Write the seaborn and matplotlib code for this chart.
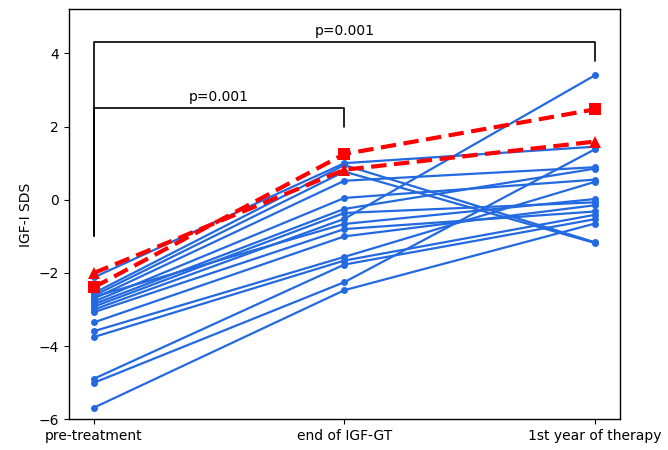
import matplotlib
matplotlib.use("Agg")
import matplotlib.pyplot as plt
import seaborn as sns
import pandas as pd
import numpy as np

timepoints = ["pre-treatment", "end of IGF-GT", "1st year of therapy"]

pre_values = [-2.12, -2.55, -2.62, -2.70, -2.78, -2.85, -2.92, -3.00, -2.65,
              -3.07, -3.35, -3.59, -3.75, -4.89, -5.00, -5.68]
end_values = [1.00, 0.95, 0.77, 0.52, 0.05, -0.25, -0.36, -0.52, -0.66,
              -0.80, -1.00, -1.56, -1.66, -1.77, -2.25, -2.47]
year1_values = [1.45, -1.16, -1.18, 0.89, 0.55, 0.85, -0.07, 3.40, 0.02,
                -0.32, -0.15, 0.49, -0.41, -0.53, 1.38, -0.65]

square_series = [-2.39, 1.25, 2.47]
triangle_series = [-2.00, 0.82, 1.59]

p_labels = ["p=0.001", "p=0.001"]

rows = []
for i, (a, b, c) in enumerate(zip(pre_values, end_values, year1_values)):
    for t, v in zip(range(3), (a, b, c)):
        rows.append({"subject": i, "time": t, "sds": v})
df = pd.DataFrame(rows)

red_df = pd.DataFrame({
    "time": list(range(3)) * 2,
    "sds": square_series + triangle_series,
    "kind": ["square"] * 3 + ["triangle"] * 3,
})

sns.set_style("ticks")
plt.rcParams["font.family"] = ["DejaVu Sans"]
plt.rcParams["font.size"] = 10
plt.rcParams["text.color"] = "black"
plt.rcParams["axes.labelcolor"] = "black"
plt.rcParams["xtick.color"] = "black"
plt.rcParams["ytick.color"] = "black"

fig = plt.figure(figsize=(6.68, 4.5), dpi=100)
ax = fig.add_axes([0.103, 0.068, 0.825, 0.911])

blue = "#2369e0"
sns.lineplot(data=df, x="time", y="sds", units="subject", estimator=None,
             color=blue, marker="o", markersize=5, markeredgewidth=0,
             linewidth=1.6, ax=ax, legend=False)

sq = red_df[red_df["kind"] == "square"]
tr = red_df[red_df["kind"] == "triangle"]
sns.lineplot(data=tr, x="time", y="sds", color="red", marker="^",
             markersize=9, markeredgewidth=0, linewidth=3,
             linestyle=(0, (3.7, 1.8)), ax=ax, legend=False)
sns.lineplot(data=sq, x="time", y="sds", color="red", marker="s",
             markersize=8, markeredgewidth=0, linewidth=3,
             linestyle=(0, (3.7, 1.8)), ax=ax, legend=False)

# significance brackets
def bracket(x1, x2, y, y1_low, y2_low, label):
    ax.plot([x1, x1, x2, x2], [y1_low, y, y, y2_low], color="black", lw=1.2)
    ax.text((x1 + x2) / 2, y + 0.12, label, ha="center", va="bottom",
            fontsize=10, color="black")

bracket(0, 1, 2.50, -1.0, 2.0, p_labels[0])
bracket(0, 2, 4.30, -1.0, 3.79, p_labels[1])

ax.set_xlim(-0.1, 2.1)
ax.set_ylim(-6, 5.2)
ax.set_xticks(range(3))
ax.set_xticklabels(timepoints)
ax.set_yticks([-6, -4, -2, 0, 2, 4])
ax.set_xlabel("")
ax.set_ylabel("IGF-I SDS", color="black")
for s in ax.spines.values():
    s.set_linewidth(1.0)
    s.set_color("black")
ax.tick_params(colors="black", labelsize=10)

fig.savefig("out.png", dpi=100)
